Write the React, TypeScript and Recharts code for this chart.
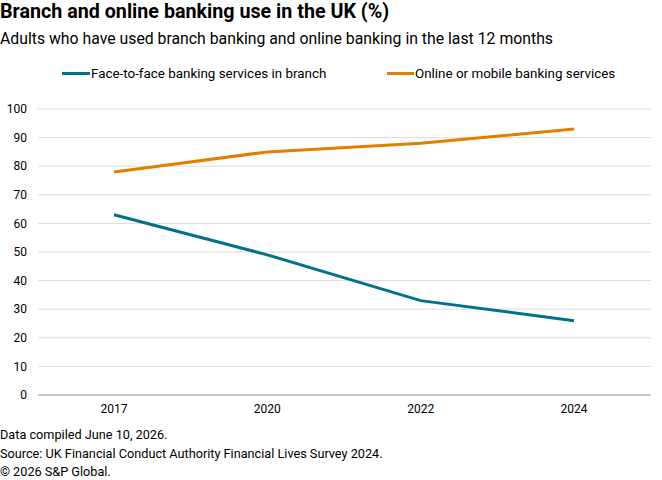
import React from "react";
import { LineChart, Line, XAxis, YAxis, CartesianGrid, Legend } from "recharts";

// Survey years on the category axis
const years = ["2017", "2020", "2022", "2024"];
// Share of adults (%) using each channel in the last 12 months
const branchUse = [63, 49, 33, 26];
const onlineUse = [78, 85, 88, 93];
const yTicks = [0, 10, 20, 30, 40, 50, 60, 70, 80, 90, 100];

const seriesNames = {
  branch: "Face-to-face banking services in branch",
  online: "Online or mobile banking services",
};

const BLUE = "#00728A";
const ORANGE = "#E27E00";
const FONT = "Roboto, 'Liberation Sans', Arial, sans-serif";

const rows = years.map((year, i) => ({
  year,
  branch: branchUse[i],
  online: onlineUse[i],
}));

const LegendContent = () => (
  <div style={{ position: "relative", height: 18, fontFamily: FONT, fontSize: 13.4, color: "#000" }}>
    <div style={{ position: "absolute", left: 62, top: 0, display: "flex", alignItems: "center" }}>
      <span style={{ display: "inline-block", width: 28, height: 3, background: BLUE, marginRight: 1 }} />
      <span>{seriesNames.branch}</span>
    </div>
    <div style={{ position: "absolute", left: 387, top: 0, display: "flex", alignItems: "center" }}>
      <span style={{ display: "inline-block", width: 27, height: 3, background: ORANGE, marginRight: 1 }} />
      <span>{seriesNames.online}</span>
    </div>
  </div>
);

export default function App() {
  return (
    <div
      style={{
        position: "absolute",
        left: 0,
        top: 0,
        width: 662,
        height: 480,
        background: "#fff",
        fontFamily: FONT,
        color: "#000",
        overflow: "hidden",
      }}
    >
      <div style={{ position: "absolute", left: 0, top: 0, fontSize: 19.7, fontWeight: 700, whiteSpace: "nowrap" }}>
        Branch and online banking use in the UK (%)
      </div>
      <div style={{ position: "absolute", left: 0, top: 29, fontSize: 15.8, whiteSpace: "nowrap" }}>
        Adults who have used branch banking and online banking in the last 12 months
      </div>
      <div style={{ position: "absolute", left: 0, top: 0 }}>
        <LineChart width={662} height={420} data={rows} margin={{ top: 91, right: 11, bottom: 5, left: 0 }}>
          <CartesianGrid horizontal vertical={false} stroke="#dcdcdc" strokeWidth={1} />
          <XAxis
            dataKey="year"
            padding={{ left: 76, right: 77 }}
            axisLine={{ stroke: "#bdbdbd", strokeWidth: 1.5 }}
            tickLine={false}
            tickSize={0}
            tickMargin={9}
            height={20}
            tick={{ fill: "#000", fontSize: 12, fontFamily: FONT }}
          />
          <YAxis
            domain={[0, 100]}
            ticks={yTicks}
            width={38}
            axisLine={false}
            tickLine={false}
            tickSize={0}
            tickMargin={11}
            interval={0}
            tick={{ fill: "#000", fontSize: 12, fontFamily: FONT }}
          />
          <Legend
            verticalAlign="top"
            align="left"
            content={<LegendContent />}
            wrapperStyle={{ top: 66, left: 0, width: 662 }}
          />
          <Line
            type="linear"
            dataKey="branch"
            name={seriesNames.branch}
            stroke={BLUE}
            strokeWidth={3}
            dot={false}
            activeDot={false}
            isAnimationActive={false}
          />
          <Line
            type="linear"
            dataKey="online"
            name={seriesNames.online}
            stroke={ORANGE}
            strokeWidth={3}
            dot={false}
            activeDot={false}
            isAnimationActive={false}
          />
        </LineChart>
      </div>
      <div style={{ position: "absolute", left: 0, top: 426, fontSize: 12.7, lineHeight: "18.5px", whiteSpace: "nowrap" }}>
        <div>Data compiled June 10, 2026.</div>
        <div>Source: UK Financial Conduct Authority Financial Lives Survey 2024.</div>
        <div>© 2026 S&amp;P Global.</div>
      </div>
    </div>
  );
}
